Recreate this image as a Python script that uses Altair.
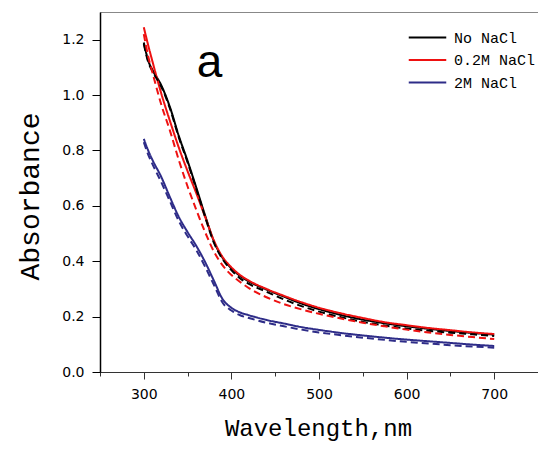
import altair as alt
import pandas as pd

# Wavelength grid (nm)
wavelength = [300, 305, 310, 320, 330, 340, 350, 360, 370, 380, 390, 400, 410, 420,
              440, 460, 480, 500, 525, 550, 575, 600, 625, 650, 675, 700]

# Solid curves
no_nacl = [1.19, 1.125, 1.09, 1.035, 0.955, 0.852, 0.762, 0.665, 0.565, 0.472, 0.412, 0.374, 0.347, 0.327,
           0.298, 0.272, 0.247, 0.227, 0.206, 0.189, 0.176, 0.165, 0.156, 0.148, 0.141, 0.135]
nacl_02 = [1.245, 1.18, 1.12, 1.005, 0.905, 0.81, 0.725, 0.645, 0.56, 0.475, 0.415, 0.378, 0.35, 0.33,
           0.30, 0.275, 0.252, 0.232, 0.212, 0.195, 0.18, 0.169, 0.159, 0.151, 0.143, 0.137]
nacl_2 = [0.842, 0.80, 0.765, 0.704, 0.63, 0.56, 0.505, 0.455, 0.397, 0.33, 0.263, 0.232, 0.215, 0.205,
          0.188, 0.175, 0.162, 0.152, 0.141, 0.132, 0.124, 0.117, 0.111, 0.105, 0.099, 0.094]

# Dashed curves
no_nacl_d = [1.185, 1.12, 1.085, 1.03, 0.95, 0.847, 0.757, 0.66, 0.56, 0.467, 0.407, 0.368, 0.338, 0.318,
             0.29, 0.262, 0.238, 0.218, 0.198, 0.181, 0.168, 0.157, 0.149, 0.142, 0.136, 0.130]
nacl_02_d = [1.22, 1.14, 1.08, 0.965, 0.87, 0.765, 0.67, 0.585, 0.505, 0.435, 0.385, 0.35, 0.325, 0.303,
             0.27, 0.245, 0.226, 0.21, 0.193, 0.178, 0.165, 0.153, 0.143, 0.134, 0.126, 0.119]
nacl_2_d = [0.83, 0.785, 0.75, 0.685, 0.615, 0.545, 0.49, 0.44, 0.38, 0.315, 0.25, 0.222, 0.205, 0.195,
            0.178, 0.165, 0.153, 0.143, 0.133, 0.124, 0.116, 0.109, 0.103, 0.097, 0.092, 0.088]

series_names = ["No NaCl", "0.2M NaCl", "2M NaCl"]
series_colors = ["#000000", "#ee1111", "#2e2c88"]

y_ticks = [0.0, 0.1, 0.2, 0.3, 0.4, 0.5, 0.6, 0.7, 0.8, 0.9, 1.0, 1.1, 1.2, 1.3]
x_ticks = [250, 300, 350, 400, 450, 500, 550, 600, 650, 700, 750]

note_x = [375]
note_y = [1.064]
note_text = ["a"]

rows = []
for name, vals, kind in [
    ("No NaCl", no_nacl, "solid"), ("0.2M NaCl", nacl_02, "solid"), ("2M NaCl", nacl_2, "solid"),
    ("No NaCl", no_nacl_d, "dashed"), ("0.2M NaCl", nacl_02_d, "dashed"), ("2M NaCl", nacl_2_d, "dashed"),
]:
    for w, v in zip(wavelength, vals):
        rows.append({"wl": w, "abs": v, "series": name, "kind": kind, "grp": name + kind})
df = pd.DataFrame(rows)

xscale = alt.Scale(domain=[250, 750], nice=False)
yscale = alt.Scale(domain=[0, 1.3], nice=False)

x_minor_test = "datum.value % 100 != 0"
y_minor_test = "round(datum.value * 10) % 2 == 1"

lines = alt.Chart(df).mark_line(strokeWidth=2, interpolate="monotone").encode(
    x=alt.X("wl:Q", scale=xscale,
            axis=alt.Axis(values=x_ticks, title="Wavelength,nm",
                          tickSize={"condition": {"test": x_minor_test, "value": 4}, "value": 7},
                          labelExpr="datum.value % 100 != 0 ? '' : datum.label",
                          labelOverlap=False, labelPadding=8,
                          titleX=218, titleY=56, titleBaseline="middle", titleFontSize=24,
                          domainColor="#333333", tickColor="#333333")),
    y=alt.Y("abs:Q", scale=yscale,
            axis=alt.Axis(values=y_ticks, title="Absorbance", format=".1f",
                          tickSize={"condition": {"test": y_minor_test, "value": 5}, "value": 8},
                          labelExpr="round(datum.value * 10) % 2 == 1 ? '' : datum.label",
                          labelOverlap=False, labelPadding=8,
                          titleX=-70, titleY=184, titleAngle=-90,
                          titleBaseline="middle", titleAlign="center", titleFontSize=28,
                          domainColor="#000000", domainWidth=1.5, tickColor="#000000")),
    color=alt.Color("series:N", scale=alt.Scale(domain=series_names, range=series_colors),
                    sort=series_names,
                    legend=alt.Legend(title=None, orient="none", legendX=319, legendY=17,
                                      symbolType="M-2.5,0H2.5", symbolSize=225,
                                      symbolStrokeWidth=2, labelOffset=18, rowPadding=5.5,
                                      labelFont="Liberation Mono", labelFontSize=15,
                                      padding=0)),
    strokeDash=alt.StrokeDash("kind:N", scale=alt.Scale(domain=["solid", "dashed"],
                                                        range=[[1, 0], [7, 4]]), legend=None),
    detail="grp:N",
)

note_df = pd.DataFrame({"x": note_x, "y": note_y, "t": note_text})
note = alt.Chart(note_df).mark_text(font="Liberation Sans", fontSize=46, baseline="alphabetic",
                                    align="center", color="#000000").encode(
    x=alt.X("x:Q", scale=xscale), y=alt.Y("y:Q", scale=yscale), text="t:N")

chart = alt.layer(lines, note).properties(
    width=438, height=360,
    autosize=alt.AutoSizeParams(type="none"),
    padding={"left": 92, "top": 4, "right": 0, "bottom": 71},
).configure_view(stroke="#888888", strokeWidth=1).configure_axis(
    labelFont="DejaVu Sans", labelFontSize=14, labelColor="#000000",
    titleFont="Liberation Mono", titleFontWeight="normal", titleColor="#000000",
    grid=False,
)

chart.save("out.html", embed_options={"renderer": "svg", "actions": False})
